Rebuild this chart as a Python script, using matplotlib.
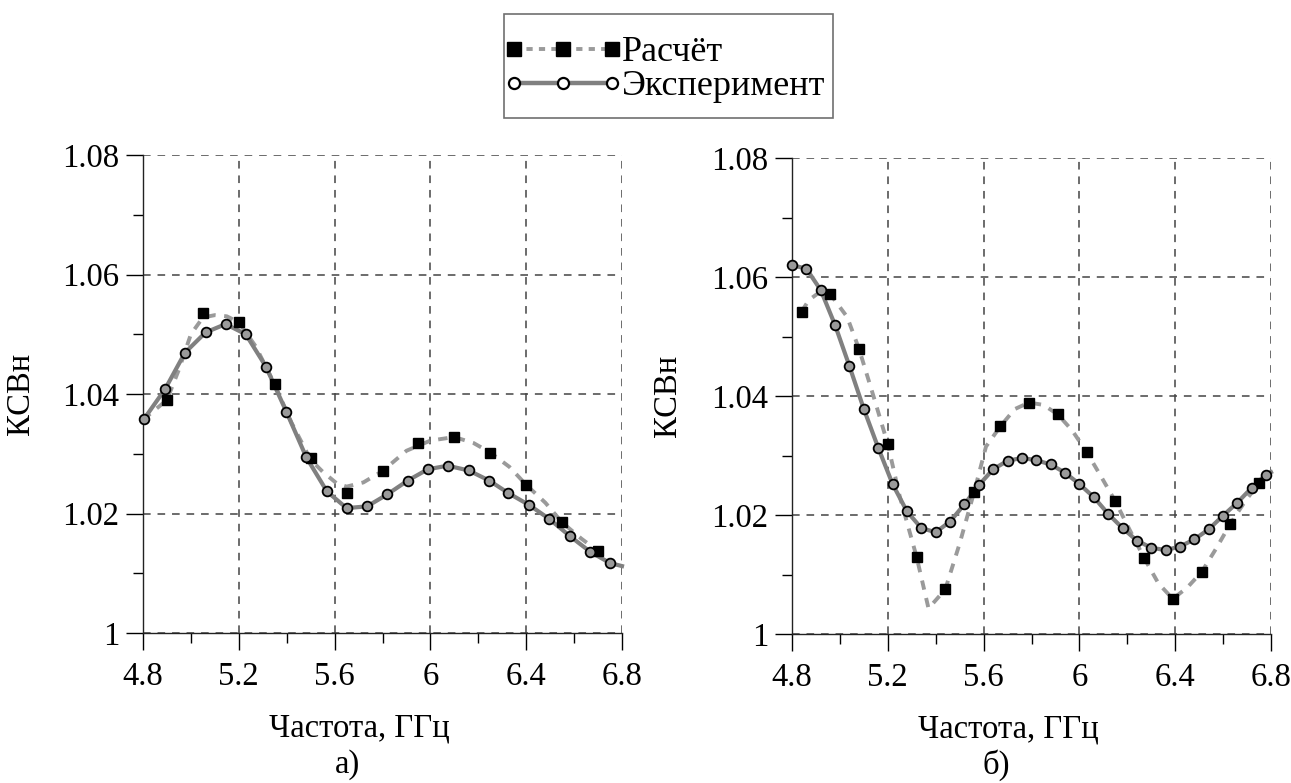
import numpy as np
import matplotlib
matplotlib.use('Agg')
import matplotlib.pyplot as plt
from matplotlib.ticker import MultipleLocator, FuncFormatter
from matplotlib.legend_handler import HandlerLine2D
from matplotlib.patches import Rectangle

plt.rcParams['font.family'] = ['Liberation Serif', 'DejaVu Serif']

############################################################
# Данные
############################################################

# а) эксперимент (кружки)
exp_a_x = [4.804, 4.892, 4.975, 5.061, 5.145, 5.229, 5.313, 5.399, 5.482, 5.568, 5.650, 5.736,
           5.820, 5.905, 5.989, 6.072, 6.160, 6.246, 6.326, 6.413, 6.496, 6.583, 6.667, 6.750]
exp_a_y = [1.0358, 1.0408, 1.0469, 1.0503, 1.0517, 1.0500, 1.0446, 1.0370, 1.0294, 1.0237, 1.0209, 1.0212,
           1.0232, 1.0255, 1.0274, 1.0280, 1.0272, 1.0255, 1.0234, 1.0214, 1.0191, 1.0162, 1.0136, 1.0117]
exp_a_end = (6.8, 1.0112)

# а) расчёт (квадраты)
calc_a_x = [4.90, 5.05, 5.20, 5.35, 5.50, 5.65, 5.80, 5.95, 6.10, 6.25, 6.40, 6.55, 6.70]
calc_a_y = [1.0390, 1.0535, 1.0521, 1.0416, 1.0293, 1.0235, 1.0271, 1.0318, 1.0328, 1.0302, 1.0248, 1.0185, 1.0137]

# а) расчёт, кривая
curve_a_x = [4.80, 4.90, 4.95, 5.00, 5.05, 5.10, 5.15, 5.20, 5.27, 5.35, 5.42, 5.50, 5.55, 5.61,
             5.65, 5.72, 5.80, 5.90, 6.00, 6.10, 6.18, 6.25, 6.33, 6.40, 6.48, 6.55, 6.63, 6.70, 6.75]
curve_a_y = [1.0357, 1.0390, 1.0441, 1.0500, 1.0528, 1.0532, 1.0530, 1.0520, 1.0480, 1.0416, 1.0352, 1.0290, 1.0270, 1.0250,
             1.0245, 1.0252, 1.0271, 1.0305, 1.0322, 1.0328, 1.0318, 1.0302, 1.0278, 1.0248, 1.0218, 1.0185, 1.0158, 1.0137, 1.0120]

# б) эксперимент (кружки)
exp_b_x = [4.80, 4.86, 4.92, 4.98, 5.04, 5.10, 5.16, 5.22, 5.28, 5.34, 5.40, 5.46,
           5.52, 5.58, 5.64, 5.70, 5.76, 5.82, 5.88, 5.94, 6.00, 6.06, 6.12, 6.18,
           6.24, 6.30, 6.36, 6.42, 6.48, 6.54, 6.60, 6.66, 6.72, 6.78]
exp_b_y = [1.0620, 1.0614, 1.0578, 1.0519, 1.0450, 1.0378, 1.0313, 1.0252, 1.0206, 1.0178, 1.0171, 1.0189,
           1.0218, 1.0250, 1.0277, 1.0291, 1.0296, 1.0292, 1.0285, 1.0271, 1.0252, 1.0230, 1.0202, 1.0178,
           1.0157, 1.0145, 1.0141, 1.0147, 1.0159, 1.0176, 1.0199, 1.0221, 1.0246, 1.0268]
exp_b_end = (6.8, 1.0272)

# б) расчёт (квадраты)
calc_b_x = [4.84, 4.96, 5.08, 5.20, 5.32, 5.44, 5.56, 5.67, 5.79, 5.91, 6.03, 6.15, 6.27, 6.39, 6.51, 6.63, 6.75]
calc_b_y = [1.0542, 1.0571, 1.0479, 1.0319, 1.0130, 1.0075, 1.0238, 1.0349, 1.0389, 1.0369, 1.0306, 1.0223, 1.0128, 1.0059, 1.0104, 1.0185, 1.0254]

# б) расчёт, кривая
curve_b_x = [4.84, 4.87, 4.91, 4.96, 5.03, 5.08, 5.14, 5.20, 5.25, 5.32, 5.37, 5.44, 5.50, 5.56, 5.61,
             5.67, 5.73, 5.79, 5.85, 5.91, 5.97, 6.03, 6.09, 6.15, 6.21, 6.27, 6.33, 6.39, 6.45,
             6.51, 6.57, 6.63, 6.69, 6.75, 6.80]
curve_b_y = [1.0542, 1.0561, 1.0573, 1.0571, 1.0533, 1.0479, 1.0400, 1.0319, 1.0231, 1.0130, 1.0043, 1.0075, 1.0152, 1.0238, 1.0315,
             1.0349, 1.0378, 1.0389, 1.0385, 1.0369, 1.0342, 1.0306, 1.0265, 1.0223, 1.0175, 1.0128, 1.0085, 1.0059, 1.0078,
             1.0104, 1.0143, 1.0185, 1.0222, 1.0254, 1.0275]

lab_calc = 'Расчёт'
lab_exp = 'Эксперимент'
xlab = 'Частота, ГГц'
ylab = 'КСВн'

############################################################
# Рисунок
############################################################

FS = 23.5
GRAY_D = '#9a9a9a'
GRAY_S = '#808080'
W, H = 1291, 783

fig = plt.figure(figsize=(12.91, 7.83), dpi=100)
ax1 = fig.add_axes([143 / W, 1 - 633 / H, 479 / W, 478 / H])
ax2 = fig.add_axes([792 / W, 1 - 634 / H, 479 / W, 476 / H])


def fmt(v, pos):
    s = ('%.2f' % v).rstrip('0').rstrip('.')
    return s


def style(ax, letter, ylab_x, xlab_x, let_x):
    ax.set_xlim(4.8, 6.8)
    ax.set_ylim(1.0, 1.08)
    ax.xaxis.set_major_locator(MultipleLocator(0.4))
    ax.xaxis.set_minor_locator(MultipleLocator(0.2))
    ax.yaxis.set_major_locator(MultipleLocator(0.02))
    ax.yaxis.set_minor_locator(MultipleLocator(0.01))
    ax.xaxis.set_major_formatter(FuncFormatter(fmt))
    ax.yaxis.set_major_formatter(FuncFormatter(fmt))
    ax.tick_params(which='major', direction='out', length=12, width=1, pad=8.5, labelsize=FS)
    ax.tick_params(which='minor', direction='out', length=7, width=1)
    ax.tick_params(axis='y', which='major', pad=5)
    ax.spines['top'].set_visible(False)
    ax.spines['right'].set_visible(False)
    for s in ('left', 'bottom'):
        ax.spines[s].set_linewidth(1)
        ax.spines[s].set_color('#222222')
    ax.grid(True, which='major', color='#444444', linestyle=(0, (5, 4.5)), linewidth=1.1)
    ax.set_axisbelow(True)
    ax.set_xlabel(xlab, fontsize=FS)
    ax.xaxis.set_label_coords(xlab_x, -0.168)
    ax.set_ylabel(ylab, fontsize=FS)
    ax.yaxis.set_label_coords(ylab_x, 0.5)
    ax.text(let_x, -0.275, letter, transform=ax.transAxes, ha='center', va='center', fontsize=FS)


def draw(ax, cx, cy, sx, sy, ex, ey, end):
    ax.plot(cx, cy, color=GRAY_D, linewidth=2.8, linestyle=(0, (2.4, 2.2)), zorder=3, clip_on=False)
    ax.plot(sx, sy, linestyle='none', marker='s', markersize=7.5, color='black', zorder=5, clip_on=False)
    ax.plot(list(ex) + [end[0]], list(ey) + [end[1]], color=GRAY_S, linewidth=3, zorder=4, clip_on=False)
    ax.plot(ex, ey, linestyle='none', marker='o', markersize=7, markerfacecolor=GRAY_D,
            markeredgecolor='black', markeredgewidth=1.3, zorder=6, clip_on=False)


draw(ax1, curve_a_x, curve_a_y, calc_a_x, calc_a_y, exp_a_x, exp_a_y, exp_a_end)
draw(ax2, curve_b_x, curve_b_y, calc_b_x, calc_b_y, exp_b_x, exp_b_y, exp_b_end)
style(ax1, 'а)', -0.224, 0.451, 0.426)
style(ax2, 'б)', -0.228, 0.451, 0.426)

# легенда
LFS = 26
h1, = ax1.plot([], [], color=GRAY_D, linewidth=2.8, linestyle=(0, (1.6, 1.6)),
               marker='s', markersize=9.5, markerfacecolor='black', markeredgecolor='black')
h2, = ax1.plot([], [], color=GRAY_S, linewidth=3.2, marker='o', markersize=8,
               markerfacecolor='white', markeredgecolor='black', markeredgewidth=1.6)
leg = fig.legend([h1, h2], [lab_calc, lab_exp], loc='upper left',
                 bbox_to_anchor=(514 / W, 1 - 36 / H), fontsize=LFS,
                 handler_map={h1: HandlerLine2D(marker_pad=0, numpoints=3),
                              h2: HandlerLine2D(marker_pad=0, numpoints=3)},
                 handlelength=2.72, handletextpad=0.28, borderpad=0, labelspacing=0.02,
                 borderaxespad=0, frameon=False)
fig.patches.append(Rectangle((504 / W, 1 - 118 / H), 329 / W, 104 / H, transform=fig.transFigure,
                             fill=False, edgecolor='#707070', linewidth=1.2))

plt.savefig('out.png', dpi=100)
